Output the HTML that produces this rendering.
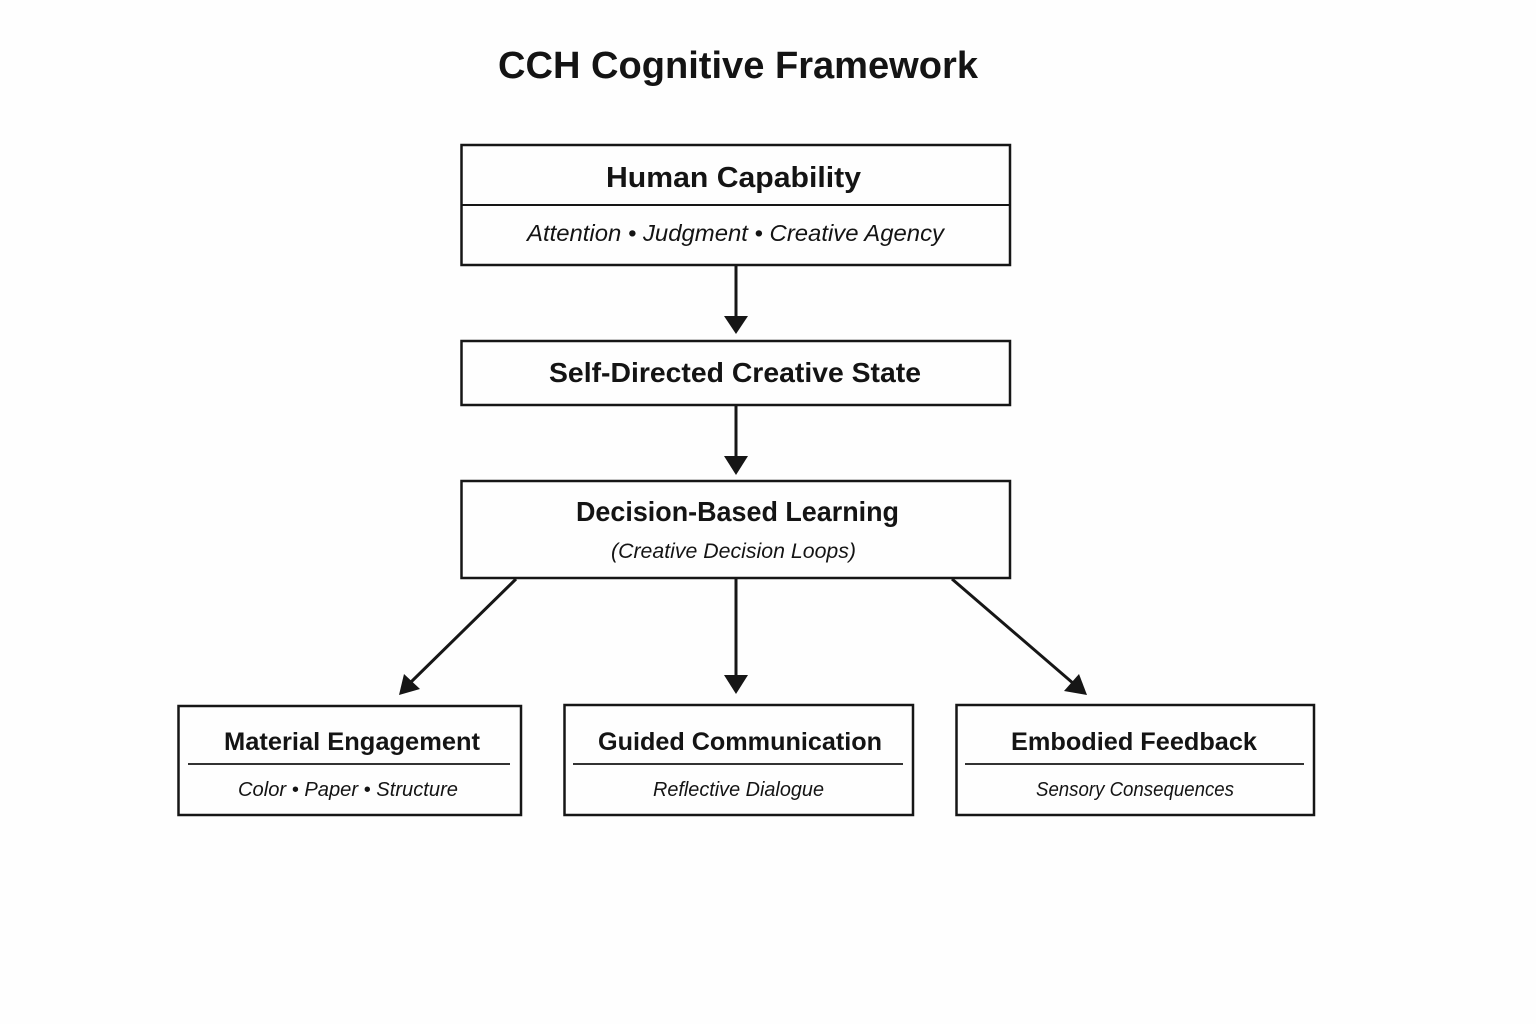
<!DOCTYPE html>
<html><head><meta charset="utf-8"><style>
html,body{margin:0;padding:0;background:#fff}
svg{display:block}
text{font-family:"Liberation Sans",sans-serif;fill:#141414}
.b{font-weight:bold}
.i{font-style:italic}
</style></head><body>
<svg width="1536" height="1024" viewBox="0 0 1536 1024" xmlns="http://www.w3.org/2000/svg">
<rect width="1536" height="1024" fill="#fefefe"/>
<text class="b" x="498" y="78" font-size="38" textLength="480" lengthAdjust="spacingAndGlyphs">CCH Cognitive Framework</text>
<g fill="none" stroke="#161616" stroke-width="2.5">
<rect x="461.5" y="145" width="548.5" height="120"/>
<line x1="461.5" y1="205" x2="1010" y2="205" stroke-width="2"/>
<rect x="461.5" y="341" width="548.5" height="64"/>
<rect x="461.5" y="481" width="548.5" height="97"/>
<rect x="178.5" y="706" width="342.5" height="109"/>
<rect x="564.5" y="705" width="348.5" height="110"/>
<rect x="956.5" y="705" width="357.5" height="110"/>
<line x1="188" y1="764" x2="510" y2="764" stroke-width="1.8"/>
<line x1="573" y1="764" x2="903" y2="764" stroke-width="1.8"/>
<line x1="965" y1="764" x2="1304" y2="764" stroke-width="1.8"/>
<line x1="736" y1="266" x2="736" y2="318" stroke-width="3"/>
<line x1="736" y1="406" x2="736" y2="458" stroke-width="3"/>
<line x1="736" y1="579" x2="736" y2="677" stroke-width="3"/>
<line x1="516" y1="579" x2="410" y2="683" stroke-width="3"/>
<line x1="952" y1="579" x2="1074" y2="684" stroke-width="3"/>
</g>
<g fill="#161616">
<polygon points="724,316 748,316 736,334"/>
<polygon points="724,456 748,456 736,475"/>
<polygon points="724,675 748,675 736,694"/>
<polygon points="399,695 404,674 420,689"/>
<polygon points="1087,695 1064,691 1079,674"/>
</g>
<text class="b" x="606" y="187" font-size="29" textLength="255" lengthAdjust="spacingAndGlyphs">Human Capability</text>
<text class="i" x="527" y="241" font-size="23" textLength="417" lengthAdjust="spacingAndGlyphs">Attention • Judgment • Creative Agency</text>
<text class="b" x="549" y="382" font-size="28" textLength="372" lengthAdjust="spacingAndGlyphs">Self-Directed Creative State</text>
<text class="b" x="576" y="521" font-size="28" textLength="323" lengthAdjust="spacingAndGlyphs">Decision-Based Learning</text>
<text class="i" x="611" y="558" font-size="21" textLength="245" lengthAdjust="spacingAndGlyphs">(Creative Decision Loops)</text>
<text class="b" x="224" y="750" font-size="25" textLength="256" lengthAdjust="spacingAndGlyphs">Material Engagement</text>
<text class="i" x="238" y="796" font-size="20" textLength="220" lengthAdjust="spacingAndGlyphs">Color • Paper • Structure</text>
<text class="b" x="598" y="750" font-size="25" textLength="284" lengthAdjust="spacingAndGlyphs">Guided Communication</text>
<text class="i" x="653" y="796" font-size="20" textLength="171" lengthAdjust="spacingAndGlyphs">Reflective Dialogue</text>
<text class="b" x="1011" y="750" font-size="25" textLength="246" lengthAdjust="spacingAndGlyphs">Embodied Feedback</text>
<text class="i" x="1036" y="796" font-size="20" textLength="198" lengthAdjust="spacingAndGlyphs">Sensory Consequences</text>
</svg>
</body></html>
